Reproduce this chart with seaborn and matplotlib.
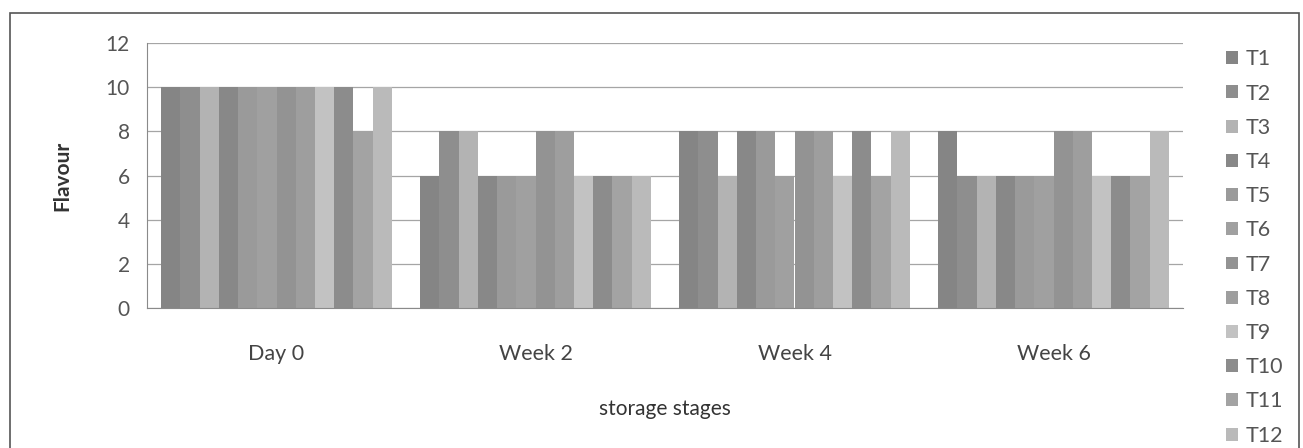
import matplotlib
matplotlib.use("Agg")
import matplotlib.pyplot as plt
from matplotlib.patches import Rectangle
import numpy as np
import pandas as pd
import seaborn as sns

# storage stages (x categories) and treatments (series)
stages = ["Day 0", "Week 2", "Week 4", "Week 6"]
treatments = ["T1", "T2", "T3", "T4", "T5", "T6", "T7", "T8", "T9", "T10", "T11", "T12"]

# flavour score per treatment, one list per stage
day0 = [10, 10, 10, 10, 10, 10, 10, 10, 10, 10, 8, 10]
week2 = [6, 8, 8, 6, 6, 6, 8, 8, 6, 6, 6, 6]
week4 = [8, 8, 6, 8, 8, 6, 8, 8, 6, 8, 6, 8]
week6 = [8, 6, 6, 6, 6, 6, 8, 8, 6, 6, 6, 8]

grays = ["#858585", "#8e8e8e", "#b3b3b3", "#888888", "#9a9a9a", "#a0a0a0",
         "#939393", "#9e9e9e", "#c2c2c2", "#8c8c8c", "#a3a3a3", "#bababa"]

rows = []
for stage, vals in zip(stages, [day0, week2, week4, week6]):
    for t, v in zip(treatments, vals):
        rows.append({"stage": stage, "treatment": t, "flavour": v})
df = pd.DataFrame(rows)

sns.set_style("white")
plt.rcParams["font.family"] = ["Lato", "DejaVu Sans"]

fig = plt.figure(figsize=(13.03, 4.48), dpi=100)
ax = fig.add_axes([147 / 1303, 1 - 308 / 448, (1183 - 147) / 1303, (308 - 43) / 448])

sns.barplot(data=df, x="stage", y="flavour", hue="treatment", order=stages,
            hue_order=treatments, palette=grays, width=0.89, saturation=1,
            linewidth=0, ax=ax, legend=True)

ax.set_ylim(0, 12)
ax.set_xlim(-0.5, 3.5)
ax.set_yticks(np.arange(0, 13, 2))
ax.yaxis.grid(True, color="#a5a5a5", linewidth=0.9)
ax.set_axisbelow(True)
for s in ["top", "right"]:
    ax.spines[s].set_visible(False)
ax.spines["left"].set_color("#8a8a8a")
ax.spines["bottom"].set_color("#8a8a8a")
ax.set_xticks([0.5, 1.5, 2.5], minor=True)
ax.tick_params(axis="x", which="major", length=0, labelsize=15.5, colors="#444444", pad=26)
ax.tick_params(axis="x", which="minor", length=5, color="#8a8a8a", direction="out")
ax.tick_params(axis="y", length=5, color="#8a8a8a", direction="inout", labelsize=15,
               colors="#555555", pad=10)
ax.set_xlabel("storage stages", fontsize=15, color="#333333", labelpad=25)
ax.set_ylabel("Flavour", fontsize=15, fontweight="bold", color="#333333", labelpad=24)

handles, labels = ax.get_legend_handles_labels()
ax.get_legend().remove()
fig.legend(handles, labels, loc="upper left", bbox_to_anchor=(1207 / 1303, 1 - 30 / 448),
           frameon=False, fontsize=15.5, handlelength=0.55, handleheight=0.55,
           handletextpad=0.35, labelspacing=0.66, labelcolor="#555555")

fig.patches.append(Rectangle((10 / 1303, -0.05), 1289 / 1303, 1.05 - 13 / 448,
                             transform=fig.transFigure, fill=False,
                             edgecolor="#555555", linewidth=1.2))

fig.savefig("out.png", dpi=100)
